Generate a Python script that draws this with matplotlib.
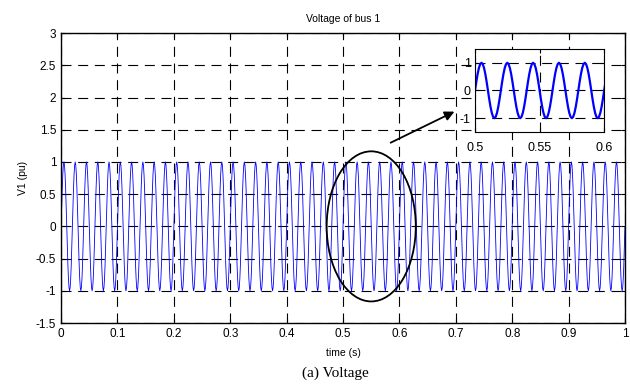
import matplotlib
matplotlib.use("Agg")
import matplotlib.pyplot as plt
import numpy as np
from matplotlib.patches import Ellipse

# one cycle of the bus voltage (pu), 1 ms steps
cycle_v = [0.0, 0.31, 0.59, 0.81, 0.95, 1.0, 0.95, 0.81, 0.59, 0.31,
           0.0, -0.31, -0.59, -0.81, -0.95, -1.0, -0.95, -0.81, -0.59, -0.31]
n_cycles = 50          # 50 Hz over 1 s
dt = 0.001

v1 = np.tile(cycle_v, n_cycles)
v1 = np.append(v1, cycle_v[0])
t = np.arange(len(v1)) * dt

x_ticks = [0, 0.1, 0.2, 0.3, 0.4, 0.5, 0.6, 0.7, 0.8, 0.9, 1]
x_labels = ['0', '0.1', '0.2', '0.3', '0.4', '0.5', '0.6', '0.7', '0.8', '0.9', '1']
y_ticks = [-1.5, -1, -0.5, 0, 0.5, 1, 1.5, 2, 2.5, 3]
y_labels = ['-1.5', '-1', '-0.5', '0', '0.5', '1', '1.5', '2', '2.5', '3']
inset_xticks = [0.5, 0.55, 0.6]
inset_yticks = [-1, 0, 1]

plt.rcParams['font.family'] = ['Liberation Sans', 'DejaVu Sans']
grid_style = dict(color='black', linestyle=(0, (9, 6)), linewidth=0.8)

fig = plt.figure(figsize=(6.3, 3.85), dpi=100)
ax = fig.add_axes([0.097, 0.161, 0.895, 0.753])
ax.plot(t, v1, color='#0000ff', linewidth=0.6)
ax.set_xlim(0, 1)
ax.set_ylim(-1.5, 3)
ax.set_xticks(x_ticks)
ax.set_xticklabels(x_labels)
ax.set_yticks(y_ticks)
ax.set_yticklabels(y_labels)
ax.tick_params(direction='in', labelsize=8.5, top=True, right=True, length=3)
ax.grid(True, **grid_style)
ax.set_title("Voltage of bus 1", fontsize=7.5, pad=8)
ax.set_xlabel("time (s)", fontsize=7.5, labelpad=6)
ax.set_ylabel("V1 (pu)", fontsize=7.5, labelpad=6)
for s in ax.spines.values():
    s.set_linewidth(1.0)

# ellipse around the zoomed window and arrow to the inset
ax.add_patch(Ellipse((0.55, 0.0), 0.158, 2.33, fill=False, edgecolor='black', linewidth=1.3, zorder=5))
ax.annotate('', xy=(0.702, 1.80), xytext=(0.58, 1.28),
            arrowprops=dict(arrowstyle='-|>', color='black', linewidth=1.3, mutation_scale=14), zorder=5)

# inset
axi = fig.add_axes([0.754, 0.657, 0.205, 0.216])
axi.plot(t, v1, color='#0000ff', linewidth=1.6)
axi.set_xlim(0.5, 0.6)
axi.set_ylim(-1.5, 1.5)
axi.set_xticks(inset_xticks)
axi.set_xticklabels(['0.5', '0.55', '0.6'])
axi.set_yticks(inset_yticks)
axi.set_yticklabels(['-1', '0', '1'])
axi.tick_params(direction='in', labelsize=9, top=True, right=True, length=3, pad=3)
axi.tick_params(axis='x', pad=7)
axi.grid(True, **grid_style)

fig.text(0.532, 0.030, "(a) Voltage", fontsize=11, family='Liberation Serif', ha='center', va='center')

fig.savefig("out.png", dpi=100)
